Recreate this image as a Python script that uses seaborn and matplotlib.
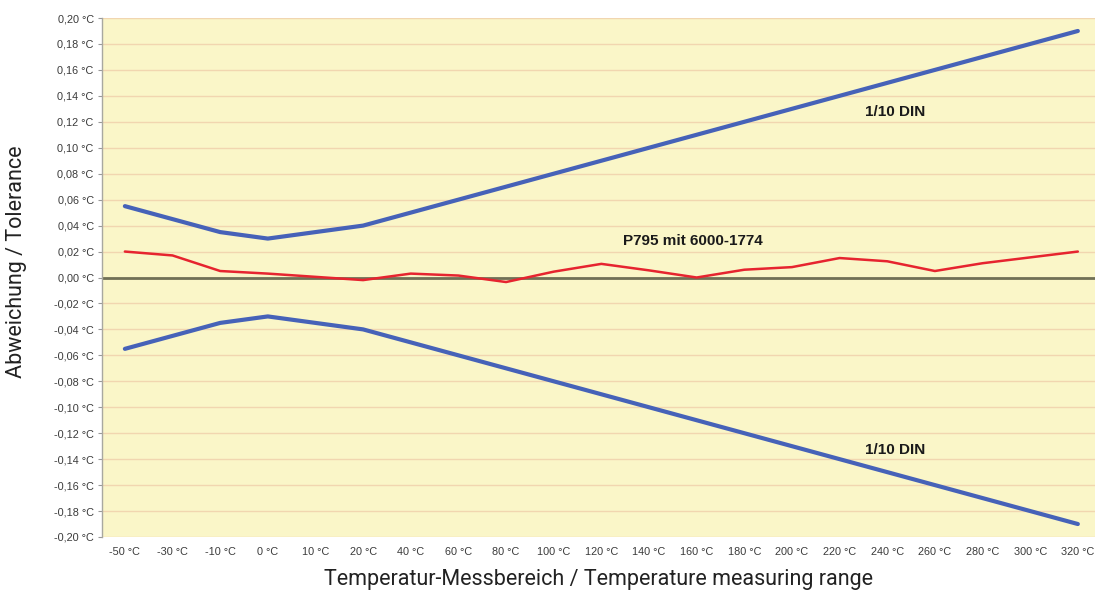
import matplotlib
matplotlib.use("Agg")
import matplotlib.pyplot as plt
import seaborn as sns
import pandas as pd

# Measuring points (°C) – shown as equally spaced categories
temps = [-50, -30, -10, 0, 10, 20, 40, 60, 80, 100, 120, 140, 160,
         180, 200, 220, 240, 260, 280, 300, 320]

# 1/10 DIN tolerance band (°C)
din_upper = [0.055, 0.045, 0.035, 0.030, 0.035, 0.040, 0.050, 0.060, 0.070,
             0.080, 0.090, 0.100, 0.110, 0.120, 0.130, 0.140, 0.150, 0.160,
             0.170, 0.180, 0.190]
din_lower = [-v for v in din_upper]

# Measured deviation of P795 with probe 6000-1774 (°C)
p795 = [0.020, 0.017, 0.005, 0.003, 0.0005, -0.002, 0.003, 0.0015, -0.0035,
        0.0045, 0.0105, 0.0055, 0.000, 0.006, 0.008, 0.015, 0.0125, 0.005,
        0.011, 0.0155, 0.020]

y_ticks = [round(-0.20 + 0.02 * i, 2) for i in range(21)]


def fmt_c(v):
    s = f"{v:.2f}".replace(".", ",")
    if s.startswith("-0,00"):
        s = s[1:]
    return f"{s} °C"


x_labels = [f"{t} °C" for t in temps]

pos = list(range(len(temps)))
df = pd.DataFrame({
    "pos": pos * 3,
    "value": din_upper + din_lower + p795,
    "series": ["din_up"] * len(pos) + ["din_lo"] * len(pos) + ["p795"] * len(pos),
})

sns.set_theme(style="white")
plt.rcParams["font.family"] = ["Liberation Sans", "DejaVu Sans"]

fig = plt.figure(figsize=(10.95, 5.95), dpi=100)
ax = fig.add_axes([102 / 1095, 1 - 537 / 595, 1 - 102 / 1095, (537 - 18) / 595])
ax.set_facecolor("#faf6c8")

for y in y_ticks:
    ax.axhline(y, color="#f1d6b0", lw=1.0, zorder=0)
ax.axhline(0, color="#707056", lw=2.0, zorder=1)

sns.lineplot(data=df[df.series == "din_up"], x="pos", y="value", color="#4662b8",
             lw=3.0, ax=ax, zorder=3)
sns.lineplot(data=df[df.series == "din_lo"], x="pos", y="value", color="#4662b8",
             lw=3.0, ax=ax, zorder=3)
sns.lineplot(data=df[df.series == "p795"], x="pos", y="value", color="#e6242f",
             lw=1.8, ax=ax, zorder=4)

ax.set_xlim(-0.48, 20.36)
ax.set_ylim(-0.20, 0.20)
ax.set_yticks(y_ticks)
ax.set_yticklabels([fmt_c(v) for v in y_ticks], fontsize=7.8, color="#3a3a3a")
ax.set_xticks(pos)
ax.set_xticklabels(x_labels, fontsize=7.8, color="#3a3a3a")
ax.tick_params(axis="y", length=3, width=0.8, color="#999999", pad=3, left=True)
ax.tick_params(axis="x", length=0, pad=7)

for side in ["top", "right", "bottom"]:
    ax.spines[side].set_visible(False)
ax.spines["left"].set_color("#a8a8a0")
ax.spines["left"].set_linewidth(1.0)

ax.set_xlabel("")
ax.set_ylabel("")
fig.text(598 / 1095, 1 - 580 / 595, "Temperatur-Messbereich / Temperature measuring range",
         ha="center", va="center", fontsize=15.5, family="Roboto", color="#222222")
fig.text(17 / 1095, 1 - 262 / 595, "Abweichung / Tolerance", rotation=90,
         ha="center", va="center", fontsize=15.5, family="Roboto", color="#222222")

ax.text(16.16, 0.1276, "1/10 DIN", ha="center", va="center", fontsize=11,
        fontweight="bold", color="#1a1a1a")
ax.text(16.16, -0.133, "1/10 DIN", ha="center", va="center", fontsize=11,
        fontweight="bold", color="#1a1a1a")
ax.text(11.92, 0.0281, "P795 mit 6000-1774", ha="center", va="center", fontsize=11,
        fontweight="bold", color="#1a1a1a")

fig.savefig("out.png", dpi=100)
